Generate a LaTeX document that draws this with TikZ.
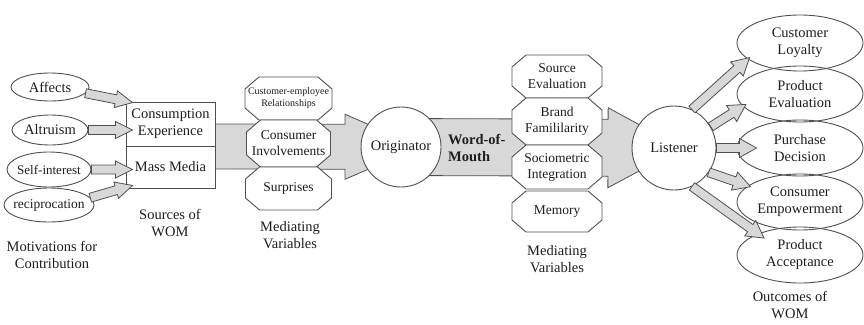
\documentclass[tikz,border=0pt]{standalone}
\usepackage{fontspec}
\setmainfont{Liberation Serif}
\usetikzlibrary{shapes.geometric,calc,backgrounds}

\definecolor{edge}{HTML}{505050}
\definecolor{arrowfill}{HTML}{D8D8D8}
\definecolor{ink}{HTML}{1E1E1E}

\tikzset{
  base/.style={text=ink, font=\fontsize{14.5}{17}\selectfont, align=center, inner sep=0pt},
  oval/.style={base, ellipse, draw=edge, line width=0.9pt},
  roundnode/.style={base, circle, draw=edge, fill=white, line width=0.9pt},
  srcbox/.style={base, rectangle, draw=edge, fill=white, line width=0.9pt, minimum width=89pt},
  octline/.style={draw=edge, fill=white, line width=0.9pt},
  octtext/.style={base, font=\fontsize{13.5}{16}\selectfont},
  smalltext/.style={font=\fontsize{10}{12}\selectfont},
  caption/.style={base},
  fatarrow/.style={draw=edge, fill=arrowfill, line width=0.8pt},
}

% block arrow: #1 start, #2 tip, #3 shaft half width, #4 head half width, #5 head length
\newcommand\wArrow[5]{%
  \coordinate (wa-base) at ($(#2)!#5!(#1)$);
  \path[fatarrow] ($(#1)!#3!90:(#2)$) -- ($(wa-base)!#3!90:(#2)$)
    -- ($(wa-base)!#4!90:(#2)$) -- (#2) -- ($(wa-base)!#4!-90:(#2)$)
    -- ($(wa-base)!#3!-90:(#2)$) -- ($(#1)!#3!-90:(#2)$) -- cycle;}

% octagonal box: [#1 text style], #2 name, #3 cx, #4 cy, #5 half width, #6 half height, #7 text
\newcommand\octo[7][]{%
  \path[octline] ({#3-#5+14},{#4-#6}) -- ({#3+#5-14},{#4-#6}) -- ({#3+#5},{#4-#6+12})
    -- ({#3+#5},{#4+#6-12}) -- ({#3+#5-14},{#4+#6}) -- ({#3-#5+14},{#4+#6})
    -- ({#3-#5},{#4+#6-12}) -- ({#3-#5},{#4-#6+12}) -- cycle;
  \node[octtext,#1] (#2) at (#3,#4) {#7};}

\begin{document}
\begin{tikzpicture}[x=1pt, y=-1pt]
\useasboundingbox (0,0) rectangle (864,324);

% motivations
\node[oval, minimum width=78pt, minimum height=28pt] (aff) at (50,87) {\makebox[0pt]{Affects}};
\node[oval, minimum width=76pt, minimum height=30pt] (alt) at (50,130) {\makebox[0pt]{Altruism}};
\node[oval, minimum width=84pt, minimum height=35pt, font=\fontsize{13}{15}\selectfont] (self) at (49,169.5) {\makebox[0pt]{Self-interest}};
\node[oval, minimum width=90pt, minimum height=34pt, font=\fontsize{13.5}{15}\selectfont] (rec) at (49,205) {\makebox[0pt]{reciprocation}};

% sources
\node[srcbox, minimum height=44pt] (cexp) at (170.5,124) {Consumption\\Experience};
\node[srcbox, minimum height=42pt] (mmed) at (170.5,167) {Mass Media};

% originator and listener
\node[roundnode, minimum size=80pt] (orig) at (401,147) {Originator};
\node[roundnode, minimum size=84pt] (lis) at (674,148) {Listener};

% main flow arrows
\begin{scope}[on background layer]
  \coordinate (t1) at ($(orig.center)+(19pt,0)$);
  \wArrow{cexp.south east}{t1}{22.5pt}{32.5pt}{75pt}
  \coordinate (t2) at ($(lis.center)+(8pt,0)$);
  \wArrow{orig.center}{t2}{28.5pt}{40pt}{74pt}
\end{scope}

% mediating variables (left)
\octo[smalltext]{cer}{288.5}{98.5}{43.5}{21.5}{Customer-employee\\Relationships}
\octo{cin}{288.5}{143.5}{42}{23.5}{Consumer\\Involvements}
\octo{sur}{288.5}{188.5}{43}{21.5}{Surprises}

% mediating variables (right)
\octo{sev}{557}{76.5}{45}{21.5}{Source\\Evaluation}
\octo{bfam}{557}{121.5}{45}{23.5}{Brand\\Famililarity}
\octo{soc}{557}{167}{45}{22}{Sociometric\\Integration}
\octo{mem}{557}{211.5}{45}{20.5}{Memory}

\node[base, font={\fontsize{14.5}{17}\selectfont\bfseries}, anchor=west, align=left] (wom) at (448,148) {Word-of-\\Mouth};

% outcomes
\node[oval, minimum width=126pt, minimum height=56pt] (loy) at (800,43) {Customer\\Loyalty};
\node[oval, minimum width=126pt, minimum height=56pt] (pe) at (800,94) {Product\\Evaluation};
\node[oval, minimum width=126pt, minimum height=56pt] (pd) at (800,148) {Purchase\\Decision};
\node[oval, minimum width=126pt, minimum height=56pt] (ce) at (800,202) {Consumer\\Empowerment};
\node[oval, minimum width=126pt, minimum height=56pt] (pa) at (800,255) {Product\\Acceptance};

% motivations -> sources
\coordinate (in1) at ($(cexp.north west)+(7pt,-1pt)$);
\coordinate (in2) at ($(cexp.west)+(7pt,-6pt)$);
\coordinate (in3) at ($(mmed.west)+(7pt,-2.5pt)$);
\coordinate (in4) at ($(mmed.south west)+(7pt,3pt)$);
\wArrow{aff.-10}{in1}{4.5pt}{8.5pt}{17pt}
\wArrow{alt.east}{in2}{4.5pt}{8.5pt}{17pt}
\wArrow{self.east}{in3}{4.5pt}{8.5pt}{17pt}
\wArrow{rec.10}{in4}{4.5pt}{8.5pt}{17pt}

% listener -> outcomes
\coordinate (o1) at ($(loy.195)+(4pt,0)$);
\coordinate (o2) at ($(pe.190)+(5pt,0)$);
\coordinate (o3) at ($(pd.west)+(20pt,0)$);
\coordinate (o4) at ($(ce.164)+(4pt,0)$);
\coordinate (o5) at ($(pa.154)+(7pt,-4pt)$);
\wArrow{lis.65}{o1}{4.5pt}{9.5pt}{17pt}
\wArrow{lis.30}{o2}{4.5pt}{9.5pt}{17pt}
\wArrow{lis.east}{o3}{4.5pt}{9.5pt}{17pt}
\wArrow{lis.-35}{o4}{4.5pt}{9.5pt}{17pt}
\wArrow{lis.-65}{o5}{4.5pt}{9.5pt}{17pt}

% captions
\node[caption] (capmot) at (52,255) {Motivations for\\Contribution};
\node[caption] (capsrc) at (170,223) {Sources of\\WOM};
\node[caption] (capmedl) at (290,235) {Mediating\\Variables};
\node[caption] (capmedr) at (557,259) {Mediating\\Variables};
\node[caption] (capout) at (790,305) {Outcomes of\\WOM};
\end{tikzpicture}
\end{document}
